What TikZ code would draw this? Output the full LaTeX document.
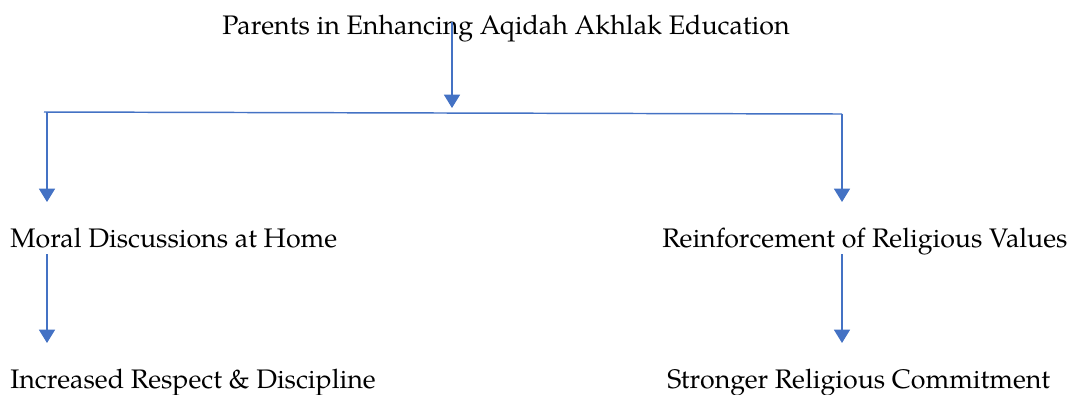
\documentclass[tikz,border=0pt]{standalone}
\usepackage{fontspec}
\setmainfont{texgyrepagella-regular.otf}
\usetikzlibrary{arrows.meta}
\definecolor{lineblue}{HTML}{4472C4}
\begin{document}
\begin{tikzpicture}[x=0.75pt,y=-0.75pt,
  lbl/.style={anchor=base west,inner sep=0pt,font=\fontsize{20.1}{23}\selectfont,text=black},
  arr/.style={draw=lineblue,line width=1.1pt,-{Triangle[width=12pt,length=10pt]}},
  ln/.style={draw=lineblue,line width=1.1pt}]
\useasboundingbox (0,0) rectangle (1071,394);
\node[lbl] (title) at (222,34) {Parents in Enhancing Aqidah Akhlak Education};
\node[lbl] (moral) at (10,247) {Moral Discussions at Home};
\node[lbl] (reinf) at (662,247) {Reinforcement of Religious Values};
\node[lbl] (resp) at (10,388) {Increased Respect \& Discipline};
\node[lbl] (comm) at (667,388) {Stronger Religious Commitment};
\coordinate (top) at (452,22);
\coordinate (jc) at (452,108);
\coordinate (jl) at (44,112);
\coordinate (jr) at (842,114);
\coordinate (lt) at (47,202);
\coordinate (rt) at (842,202);
\coordinate (ls) at (47,254);
\coordinate (rs) at (842,254);
\coordinate (lb) at (47,343);
\coordinate (rb) at (842,343);
\draw[arr] (top) -- (jc);
\draw[ln] (jl) -- (jr);
\draw[arr] (jl -| lt) -- (lt);
\draw[arr] (jr) -- (rt);
\draw[arr] (ls) -- (lb);
\draw[arr] (rs) -- (rb);
\end{tikzpicture}
\end{document}
